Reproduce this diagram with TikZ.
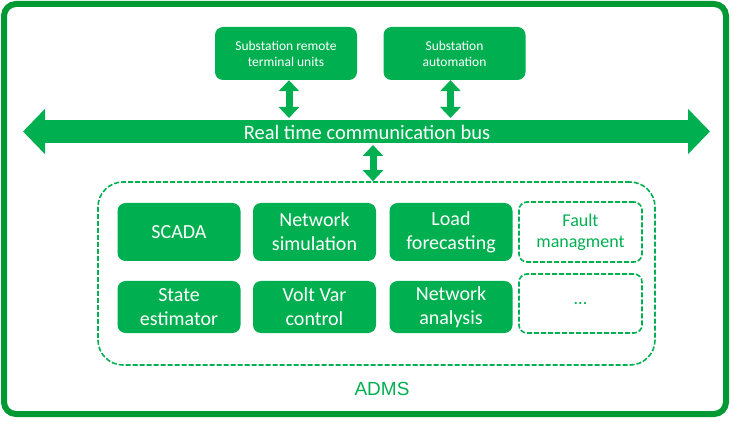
\documentclass[tikz,border=0pt]{standalone}
\usepackage{fontspec}
\setmainfont{Carlito}
\newfontfamily\admsfont{Liberation Sans}
\usetikzlibrary{arrows.meta}
\definecolor{admsgreen}{RGB}{0,176,80}
\definecolor{framegreen}{RGB}{0,153,51}

\begin{document}
\begin{tikzpicture}[x=1pt,y=-1pt,
    module/.style={fill=admsgreen,rounded corners=8pt,text=white,align=center,
       minimum width=123pt,minimum height=58pt,inner sep=0pt,
       font=\fontsize{20}{24}\selectfont},
    spare/.style={draw=admsgreen,line width=1.6pt,dash pattern=on 5pt off 2pt,
       rounded corners=8pt,text=admsgreen,align=center,
       minimum width=123pt,minimum height=58pt,inner sep=0pt,
       font=\fontsize{18}{21}\selectfont},
    unit/.style={fill=admsgreen,rounded corners=8pt,text=white,align=center,
       minimum width=142pt,minimum height=53pt,inner sep=0pt,
       font=\fontsize{13.5}{16}\selectfont},
    link/.style={admsgreen,line width=7pt,
       {Triangle[length=11pt,width=20pt]}-{Triangle[length=11pt,width=20pt]}}]
            \useasboundingbox (0,0) rectangle (734,422);
            % outer frame
            \draw [framegreen,line width=6pt,rounded corners=12pt]
               (4,4) rectangle (726,414);

            % field side
            \node [unit] (rtu) at (286,53.5) {Substation remote\\terminal units};
            \node [unit] (subauto) at (454.5,53.5) {Substation\\automation};

            % communication bus
            \coordinate (busL) at (23,131.5);
            \coordinate (busR) at (710,131.5);
            \coordinate (bustop) at (0,118);
            \coordinate (busbot) at (0,145);
            \draw [admsgreen,line width=23pt,
               {Triangle[length=22pt,width=44pt]}-{Triangle[length=22pt,width=44pt]}]
               (busL) -- (busR);
            \node [text=white,font=\fontsize{20.5}{24}\selectfont] (bus)
               at (367,132) {Real time communication bus};

            \draw [link] ([xshift=3pt]rtu.south) -- ([xshift=3pt]rtu.south |- bustop);
            \draw [link] ([xshift=-4pt]subauto.south) -- ([xshift=-4pt]subauto.south |- bustop);

            % ADMS
            \node [draw=admsgreen,line width=1.6pt,dash pattern=on 5pt off 2pt,
               rounded corners=25pt,minimum width=557pt,minimum height=183pt]
               (admsbox) at (376.5,273.5) {};
            \draw [link] ([xshift=-3.5pt]admsbox.north |- busbot) -- ([xshift=-3.5pt]admsbox.north);

            \node [module] (scada) at (179,232) {SCADA};
            \node [module] (netsim) at (314.5,232) {Network\\simulation};
            \node [module] (loadfc) at (451,232) {Load\\forecasting};
            \node [spare,minimum height=60pt] (fault) at (580.5,232) {Fault\\managment};
            \node [module,minimum height=52pt] (stateest) at (179,307) {State\\estimator};
            \node [module,minimum height=52pt] (voltvar) at (314.5,307) {Volt Var\\control};
            \node [module,minimum height=52pt] (netan) at (451,307) {Network\\analysis};
            \node [spare,minimum height=59pt] (more) at (580.5,303.5) {...};

            \node [text=admsgreen,font=\admsfont\fontsize{19}{22}\selectfont]
               (admslabel) at (382,389) {ADMS};
         \end{tikzpicture}
\end{document}
